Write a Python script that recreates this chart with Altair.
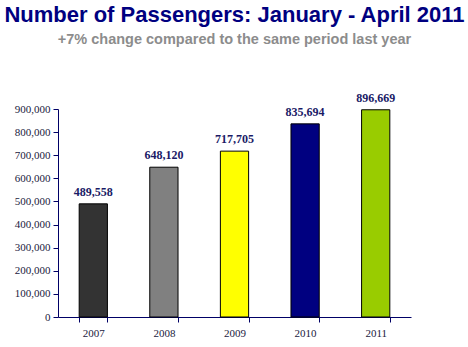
import altair as alt
import pandas as pd

years = ["2007", "2008", "2009", "2010", "2011"]
passengers = [489558, 648120, 717705, 835694, 896669]
bar_colors = ["#333333", "#808080", "#FFFF00", "#000080", "#99CC00"]
y_ticks = [0, 100000, 200000, 300000, 400000, 500000, 600000, 700000, 800000, 900000]

df = pd.DataFrame({"year": years, "passengers": passengers, "color": bar_colors})

navy = "#000066"
serif = "Liberation Serif"

x = alt.X("year:N", title=None, sort=years,
          scale=alt.Scale(paddingInner=0.6, paddingOuter=0.3),
          axis=alt.Axis(labelAngle=0, tickBand="extent", labelFont=serif, labelFontSize=11,
                        labelColor="#1a1a40", domainColor=navy, tickColor=navy, tickSize=5,
                        labelPadding=5, grid=False))
y = alt.Y("passengers:Q", title=None,
          scale=alt.Scale(domain=[0, 900000], nice=False),
          axis=alt.Axis(values=y_ticks, format=",.0f", labelFont=serif, labelFontSize=11,
                        labelColor="#1a1a40", domainColor=navy, tickColor=navy, tickSize=5,
                        labelPadding=3, grid=False))

bars = alt.Chart(df).mark_bar(stroke="black", strokeWidth=1).encode(
    x=x, y=y, color=alt.Color("color:N", scale=None)
)

labels = alt.Chart(df).mark_text(
    font=serif, fontSize=12, fontWeight="bold", color="#1a1a66",
    baseline="alphabetic", dy=-8
).encode(x=x, y=y, text=alt.Text("passengers:Q", format=",.0f"))

chart = alt.layer(bars, labels).properties(
    width=353, height=208,
    autosize=alt.AutoSizeParams(type="none"),
    padding={"left": 58, "top": 109, "right": 57, "bottom": 30},
    title=alt.TitleParams(
        text="Number of Passengers: January - April 2011",
        subtitle="+7% change compared to the same period last year",
        font="Liberation Sans", fontSize=22, fontWeight="bold", color="#000080",
        subtitleFont="Liberation Sans", subtitleFontSize=14.5, subtitleFontWeight="bold",
        subtitleColor="#8c8c8c", subtitlePadding=6, anchor="middle", offset=44
    )
).configure(background="white").configure_view(stroke=None)

chart.save("out.html", embed_options={"renderer": "svg", "actions": False})
